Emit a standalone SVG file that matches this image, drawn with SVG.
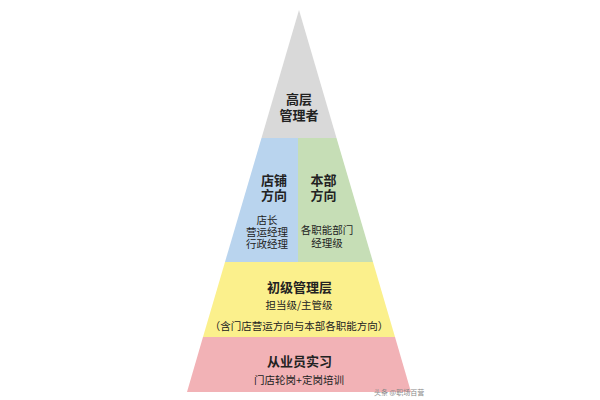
<svg xmlns="http://www.w3.org/2000/svg" width="600" height="400" viewBox="0 0 600 400">
<style>
text{font-family:"Noto Sans CJK SC","Noto Sans",sans-serif;text-anchor:middle;fill:#222}
.h{font-size:13px;font-weight:bold}
.s{font-size:10.5px}
.w{font-size:7px;fill:#888;text-anchor:start}
</style>
<rect width="600" height="400" fill="#ffffff"/>
<g id="top">
<polygon points="299,10 336.5,138 261.5,138" fill="#d9d9d9"/>
<text class="h" x="299" y="104">高层</text>
<text class="h" x="299" y="120">管理者</text>
</g>
<g id="store">
<polygon points="261.5,138 298,138 298,262 225,262" fill="#b9d4ee"/>
<text class="h" x="274" y="185">店铺</text>
<text class="h" x="274" y="200">方向</text>
<text class="s" x="267" y="224">店长</text>
<text class="s" x="267" y="236">营运经理</text>
<text class="s" x="267" y="248">行政经理</text>
</g>
<g id="hq">
<polygon points="298,138 336.5,138 373,262 298,262" fill="#c6deb6"/>
<text class="h" x="323.5" y="185">本部</text>
<text class="h" x="323.5" y="200">方向</text>
<text class="s" x="327" y="234">各职能部门</text>
<text class="s" x="327" y="247">经理级</text>
</g>
<g id="junior">
<polygon points="225,262 373,262 395,337 203,337" fill="#fbf08c"/>
<text class="h" x="299.5" y="292">初级管理层</text>
<text class="s" x="299" y="309">担当级/主管级</text>
<text class="s" x="299" y="330">（含门店营运方向与本部各职能方向）</text>
</g>
<g id="intern">
<polygon points="203,337 395,337 411,392 187,392" fill="#f2b2b6"/>
<text class="h" x="299.5" y="366">从业员实习</text>
<text class="s" x="299" y="384">门店轮岗+定岗培训</text>
</g>
<g id="connectors"></g>
<text class="w" x="374" y="395">头条 @职场百营</text>
</svg>
